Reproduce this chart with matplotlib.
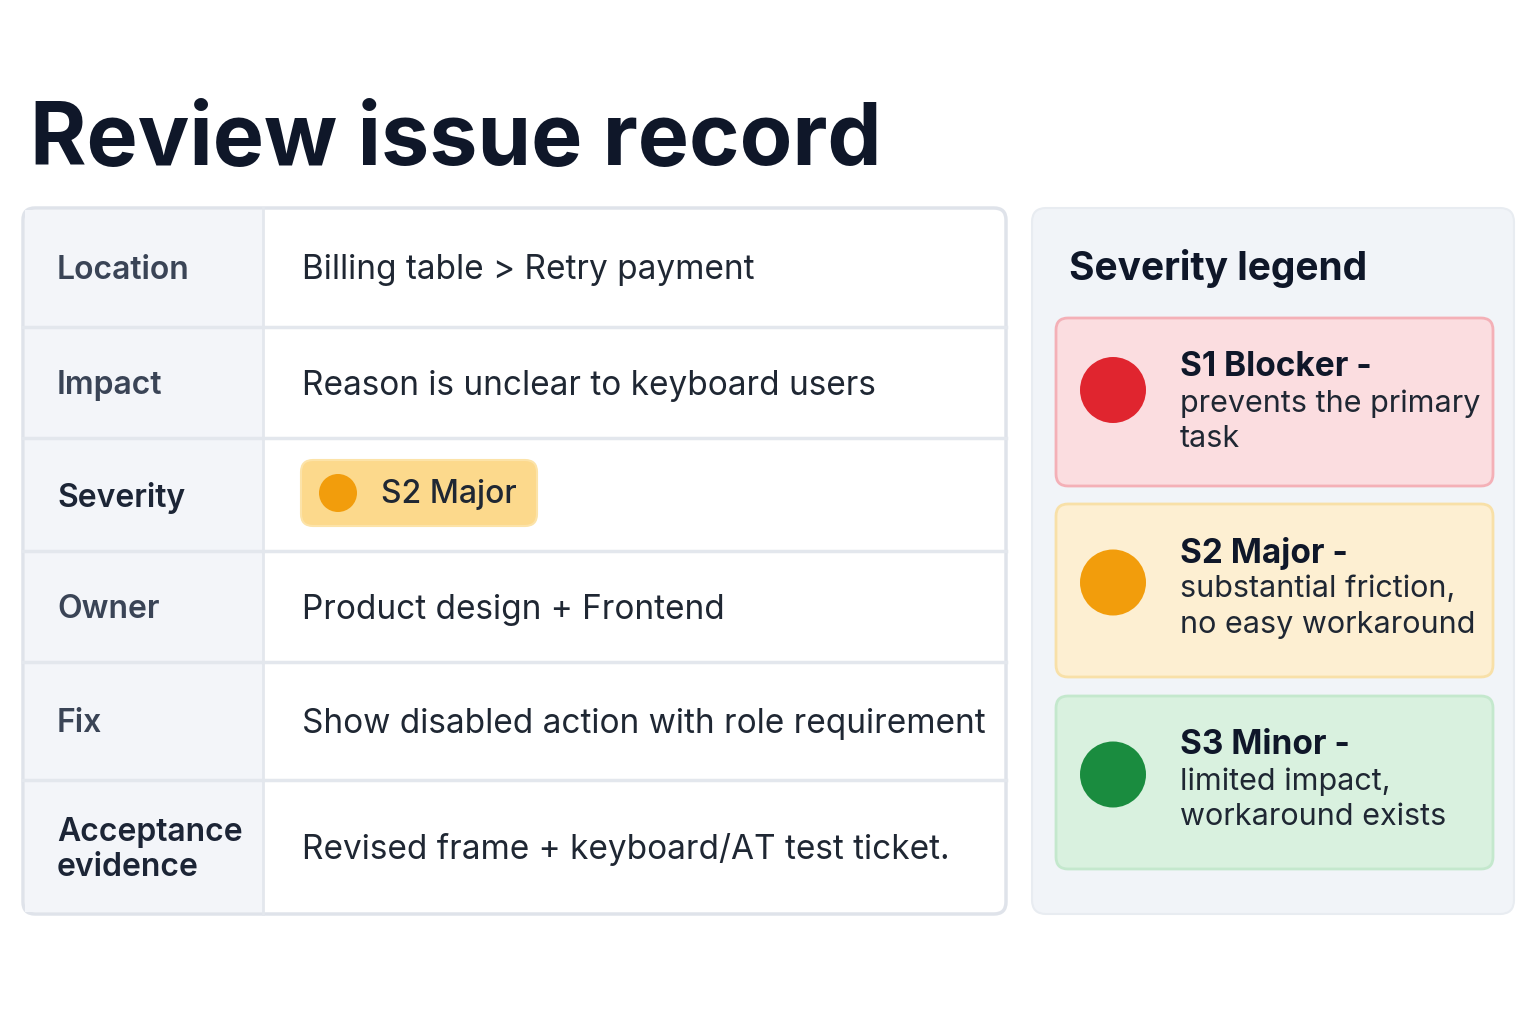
import matplotlib
matplotlib.use("Agg")
import matplotlib.pyplot as plt
from matplotlib.patches import FancyBboxPatch, Circle, Rectangle

plt.rcParams['font.family'] = ['Inter', 'DejaVu Sans']

# data
row_labels = ["Location", "Impact", "Severity", "Owner", "Fix", "Acceptance\nevidence"]
row_values = ["Billing table > Retry payment", "Reason is unclear to keyboard users",
              None, "Product design + Frontend",
              "Show disabled action with role requirement",
              "Revised frame + keyboard/AT test ticket."]
row_edges = [208, 327, 438, 551, 662, 780, 914]
legend_titles = ["S1 Blocker -", "S2 Major -", "S3 Minor -"]
legend_texts = ["prevents the primary\ntask", "substantial friction,\nno easy workaround",
                "limited impact,\nworkaround exists"]
legend_fill = ["#fbdde0", "#fdefd2", "#d9f1df"]
legend_edge = ["#f4b0b7", "#f8e0a8", "#c4e8cd"]
legend_dot = ["#e0252f", "#f29d0c", "#1a8c3f"]
card_tops = [318, 504, 696]
card_h = [168, 173, 173]

fig = plt.figure(figsize=(15.36, 10.24), dpi=100)
ax = fig.add_axes([0, 0, 1, 1])
ax.set_xlim(0, 1536)
ax.set_ylim(1024, 0)
ax.axis("off")

ax.text(30, 165, "Review issue record", fontsize=62, fontweight="bold",
        color="#0f1729", va="baseline")

# table
tx0, tx1, split = 23, 1006, 263
ty0, ty1 = row_edges[0], row_edges[-1]
ax.add_patch(FancyBboxPatch((tx0, ty0), tx1 - tx0, ty1 - ty0,
                            boxstyle="round,pad=0,rounding_size=12",
                            fc="white", ec="#dfe3ea", lw=2.5, zorder=1))
ax.add_patch(Rectangle((tx0 + 2, ty0 + 2), split - tx0 - 2, ty1 - ty0 - 4,
                       fc="#f3f5f9", ec="none", zorder=1.5))
ax.plot([split, split], [ty0, ty1], color="#e3e7ed", lw=2, zorder=2)
for y in row_edges[1:-1]:
    ax.plot([tx0, tx1], [y, y], color="#e3e7ed", lw=2.5, zorder=2)

for i, (lab, val) in enumerate(zip(row_labels, row_values)):
    yc = (row_edges[i] + row_edges[i + 1]) / 2 + 3
    dark = lab == "Severity" or "\n" in lab
    ax.text(57, yc, lab, fontsize=23, fontweight="semibold",
            color="#1c2536" if dark else "#3a4456", va="center",
            linespacing=1.15, zorder=3)
    if val is not None:
        ax.text(302, yc, val, fontsize=24, color="#1f2733", va="center", zorder=3)
    else:
        ax.add_patch(FancyBboxPatch((301, 460), 236, 66,
                                    boxstyle="round,pad=0,rounding_size=12",
                                    fc="#fcd98c", ec="#fce3a8", lw=1.5, zorder=3))
        ax.add_patch(Circle((338, 493), 19, fc="#f29d0c", ec="none", zorder=4))
        ax.text(381, 494, "S2 Major", fontsize=23, fontweight="medium",
                color="#1f2733", va="center", zorder=4)

# legend panel
ax.add_patch(FancyBboxPatch((1032, 208), 482, 706,
                            boxstyle="round,pad=0,rounding_size=14",
                            fc="#f1f4f8", ec="#e8ecf1", lw=1.5, zorder=1))
ax.text(1069, 268, "Severity legend", fontsize=28, fontweight="bold",
        color="#0f1729", va="center", zorder=3)
for i in range(3):
    top = card_tops[i]
    ax.add_patch(FancyBboxPatch((1056, top), 437, card_h[i],
                                boxstyle="round,pad=0,rounding_size=12",
                                fc=legend_fill[i], ec=legend_edge[i], lw=2, zorder=2))
    yc = top + card_h[i] / 2
    ax.add_patch(Circle((1113, yc - 12 if i == 0 else yc - 8), 33,
                        fc=legend_dot[i], ec="none", zorder=3))
    ax.text(1180, top + 49, legend_titles[i], fontsize=24, fontweight="bold",
            color="#0f1729", va="center", zorder=3)
    ax.text(1180, top + 71, legend_texts[i], fontsize=22, color="#1f2733",
            va="top", linespacing=1.35, zorder=3)

fig.savefig("out.png", dpi=100)
